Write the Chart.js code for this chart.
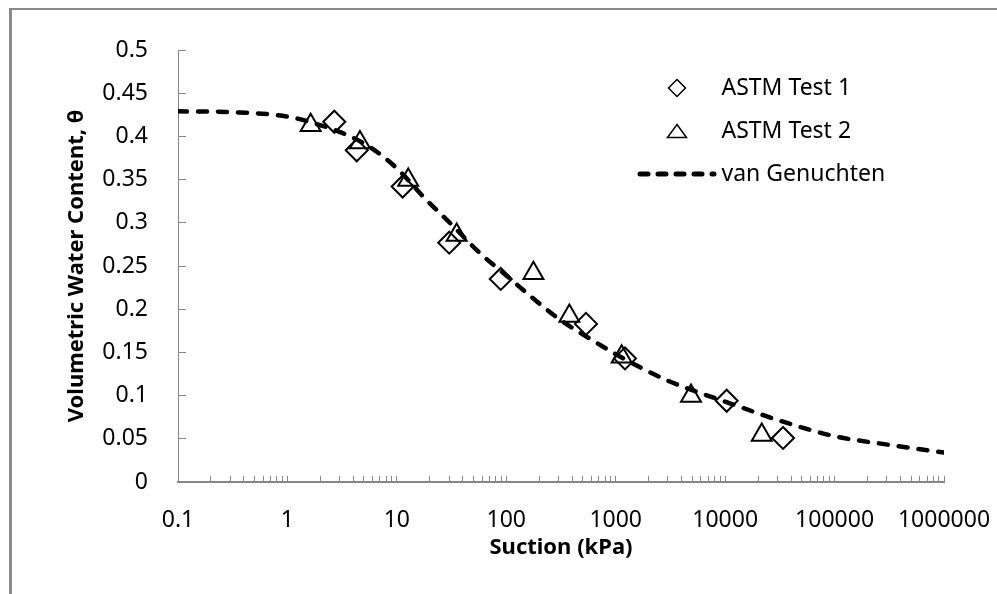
<!DOCTYPE html>
<html>
<head>
<meta charset="utf-8">
<script src="https://cdn.jsdelivr.net/npm/chart.js@4/dist/chart.umd.min.js"></script>
<style>
  html, body { margin: 0; padding: 0; background: #fff; }
  #wrap { position: relative; width: 997px; height: 594px; overflow: hidden; }
  #frame {
    position: absolute; left: 9px; top: 8px; right: -4px; bottom: -4px;
    border-top: 2px solid #8a8a8a; border-left: 3px solid #8a8a8a;
    pointer-events: none;
  }
  canvas { display: block; }
</style>
</head>
<body>
<div id="wrap">
  <canvas id="chart" width="997" height="594"></canvas>
  <div id="frame"></div>
</div>
<script>
// measured points (suction in kPa, volumetric water content)
const test1Suction = [2.68, 4.3, 11.3, 30.1, 89, 535, 1216, 10330, 33800];
const test1Theta = [0.417, 0.384, 0.342, 0.277, 0.235, 0.183, 0.143, 0.094, 0.051];

const test2Suction = [1.63, 4.6, 12.7, 35.2, 177, 377, 1133, 4876, 21600];
const test2Theta = [0.413, 0.393, 0.3495, 0.286, 0.2415, 0.192, 0.145, 0.0995, 0.0544];

// fitted curve
const vgSuction = [0.1, 0.316, 1, 1.78, 3.16, 5.62, 10, 17.8, 31.6, 56.2, 100, 178, 316, 562,
  1000, 1780, 3160, 5620, 10000, 31600, 100000, 316000, 1000000];
const vgTheta = [0.429, 0.428, 0.423, 0.415, 0.404, 0.388, 0.363, 0.329, 0.298, 0.266, 0.239, 0.212,
  0.187, 0.167, 0.148, 0.131, 0.116, 0.104, 0.093, 0.071, 0.053, 0.043, 0.034];

const xDecades = [0.1, 1, 10, 100, 1000, 10000, 100000, 1000000];
const xTickLabels = ['0.1', '1', '10', '100', '1000', '10000', '100000', '1000000'];
const yTickValues = [0, 0.05, 0.1, 0.15, 0.2, 0.25, 0.3, 0.35, 0.4, 0.45, 0.5];
const yTickLabels = ['0', '0.05', '0.1', '0.15', '0.2', '0.25', '0.3', '0.35', '0.4', '0.45', '0.5'];

const AXIS_GREY = '#868686';
const FONT = "'Noto Sans', sans-serif";

Chart.defaults.font.family = FONT;
Chart.defaults.color = '#000';

function toPoints(xs, ys) {
  return xs.map((x, i) => ({ x, y: ys[i] }));
}

function makeSymbol(w, h, draw) {
  const c = document.createElement('canvas');
  c.width = w;
  c.height = h;
  const ctx = c.getContext('2d');
  ctx.strokeStyle = '#000';
  draw(ctx);
  return c;
}

// legend glyphs (diamond, triangle, dashed line)
const legendSymbols = [
  makeSymbol(20, 20, (ctx) => {
    ctx.lineWidth = 1.5;
    ctx.beginPath();
    ctx.moveTo(10, 1.5); ctx.lineTo(18.5, 10); ctx.lineTo(10, 18.5); ctx.lineTo(1.5, 10);
    ctx.closePath();
    ctx.stroke();
  }),
  makeSymbol(22, 16, (ctx) => {
    ctx.lineWidth = 1.5;
    ctx.beginPath();
    ctx.moveTo(11, 1.5); ctx.lineTo(20.5, 14.5); ctx.lineTo(1.5, 14.5);
    ctx.closePath();
    ctx.stroke();
  }),
  makeSymbol(80, 8, (ctx) => {
    ctx.lineWidth = 5;
    ctx.lineCap = 'round';
    ctx.setLineDash([8, 10]);
    ctx.beginPath();
    ctx.moveTo(3, 4); ctx.lineTo(77, 4);
    ctx.stroke();
  })
];

// put the legend in the upper right of the plot
const legendPlacer = {
  id: 'legendPlacer',
  afterLayout(chart) {
    const lg = chart.legend;
    const area = chart.chartArea;
    lg.left = area.right - 320;
    lg.right = lg.left + lg.width;
    lg.top = area.top + 6.5;
    lg.bottom = lg.top + lg.height;
  }
};

new Chart(document.getElementById('chart'), {
  type: 'scatter',
  data: {
    datasets: [
      {
        label: 'ASTM Test 1',
        data: toPoints(test1Suction, test1Theta),
        pointStyle: 'rectRot',
        pointRadius: 11,
        pointHoverRadius: 11,
        pointBorderWidth: 2,
        borderColor: '#000',
        backgroundColor: 'rgba(0,0,0,0)'
      },
      {
        label: 'ASTM Test 2',
        data: toPoints(test2Suction, test2Theta),
        pointStyle: 'triangle',
        pointRadius: 11.5,
        pointHoverRadius: 11.5,
        pointBorderWidth: 2,
        borderColor: '#000',
        backgroundColor: 'rgba(0,0,0,0)'
      },
      {
        label: 'van Genuchten',
        data: toPoints(vgSuction, vgTheta),
        showLine: true,
        pointRadius: 0,
        pointHoverRadius: 0,
        borderColor: '#000',
        backgroundColor: '#000',
        borderWidth: 4.5,
        borderDash: [9, 11],
        borderCapStyle: 'round',
        cubicInterpolationMode: 'monotone',
        fill: false
      }
    ]
  },
  options: {
    responsive: false,
    animation: false,
    devicePixelRatio: 1,
    layout: { padding: { top: 50, right: 53, bottom: 0, left: 0 } },
    plugins: {
      tooltip: { enabled: false },
      legend: {
        position: 'chartArea',
        align: 'start',
        labels: {
          usePointStyle: true,
          pointStyleWidth: 66,
          padding: 20,
          color: '#000',
          font: { size: 23 },
          generateLabels(chart) {
            const items = Chart.defaults.plugins.legend.labels.generateLabels(chart);
            items.forEach((item, i) => { item.pointStyle = legendSymbols[i]; });
            return items;
          }
        }
      }
    },
    scales: {
      x: {
        type: 'logarithmic',
        min: 0.1,
        max: 1000000,
        afterFit(scale) {
          scale.height = 112;
          scale.paddingLeft = 0;
          scale.paddingRight = 0;
        },
        afterBuildTicks(scale) {
          const ticks = [];
          xDecades.forEach((d, i) => {
            ticks.push({ value: d });
            if (i < xDecades.length - 1) {
              for (let m = 2; m <= 9; m++) ticks.push({ value: d * m });
            }
          });
          scale.ticks = ticks;
        },
        ticks: {
          autoSkip: false,
          maxRotation: 0,
          padding: 31,
          color: '#000',
          font: { size: 23 },
          callback(value) {
            const i = xDecades.indexOf(value);
            return i >= 0 ? xTickLabels[i] : '';
          }
        },
        grid: { drawOnChartArea: false, tickLength: -6, color: AXIS_GREY, lineWidth: 1 },
        border: { color: AXIS_GREY, width: 2 },
        title: {
          display: true,
          text: 'Suction (kPa)',
          color: '#000',
          font: { size: 22, weight: 'bold' },
          padding: { top: 0, bottom: 33 }
        }
      },
      y: {
        min: 0,
        max: 0.5,
        afterFit(scale) {
          scale.width = 178;
          scale.paddingTop = 0;
          scale.paddingBottom = 0;
        },
        afterBuildTicks(scale) {
          scale.ticks = yTickValues.map((v) => ({ value: v }));
        },
        ticks: {
          padding: 38,
          color: '#000',
          font: { size: 23 },
          callback: (value, index) => yTickLabels[index]
        },
        grid: { drawOnChartArea: false, tickLength: -8, color: AXIS_GREY, lineWidth: 1 },
        border: { color: AXIS_GREY, width: 1 },
        title: {
          display: true,
          text: 'Volumetric Water Content, θ',
          color: '#000',
          font: { size: 22, weight: 'bold' },
          padding: { top: 64, bottom: 0 }
        }
      }
    }
  },
  plugins: [legendPlacer]
});
</script>
</body>
</html>
